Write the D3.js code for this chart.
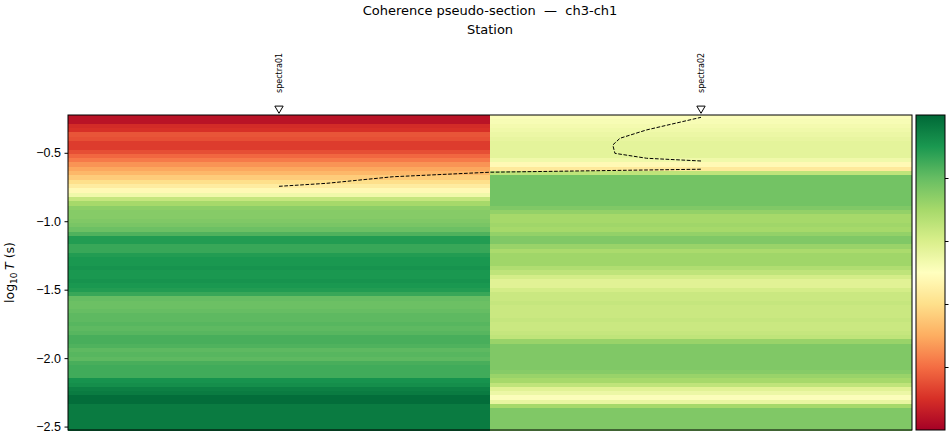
<!DOCTYPE html>
<html>
<head>
<meta charset="utf-8">
<script src="https://cdn.jsdelivr.net/npm/d3@7"></script>
<style>
  body { margin: 0; background: #fff; }
  svg { font-family: "DejaVu Sans", sans-serif; }
</style>
</head>
<body>
<div id="chart"></div>
<script>
// stations along the profile
const stations = ["spectra01", "spectra02"];
const stationPos = [0, 1];

// period grid (log10 T, s): top edge, bottom edge, number of rows
const logTTop = -0.224;
const logTBottom = -2.525;
const nRows = 73;

// coherence per row, top (long period) to bottom (short period)
const cohSpectra01 = [
  0.04, 0.04, 0.09, 0.10, 0.16, 0.15, 0.12, 0.12, 0.15, 0.19,
  0.22, 0.26, 0.29, 0.32, 0.36, 0.40, 0.44, 0.48, 0.54, 0.64,
  0.70, 0.74, 0.75, 0.75, 0.76, 0.77, 0.79, 0.83, 0.89, 0.89,
  0.86, 0.86, 0.89, 0.90, 0.90, 0.91, 0.90, 0.90, 0.91, 0.90,
  0.89, 0.86, 0.80, 0.79, 0.79, 0.80, 0.81, 0.81, 0.82, 0.81,
  0.82, 0.84, 0.84, 0.83, 0.81, 0.82, 0.81, 0.84, 0.85, 0.85,
  0.85, 0.91, 0.92, 0.95, 0.96, 0.99, 0.99, 0.96, 0.96, 0.96,
  0.96, 0.96, 0.96
];
const cohSpectra02 = [
  0.51, 0.52, 0.53, 0.54, 0.55, 0.56, 0.57, 0.57, 0.57, 0.57,
  0.54, 0.48, 0.43, 0.65, 0.78, 0.78, 0.78, 0.78, 0.78, 0.78,
  0.78, 0.76, 0.73, 0.70, 0.70, 0.71, 0.70, 0.73, 0.76, 0.76,
  0.72, 0.69, 0.71, 0.71, 0.71, 0.68, 0.65, 0.61, 0.58, 0.58,
  0.61, 0.63, 0.63, 0.64, 0.63, 0.63, 0.63, 0.64, 0.63, 0.63,
  0.64, 0.65, 0.72, 0.76, 0.76, 0.76, 0.76, 0.76, 0.76, 0.75,
  0.72, 0.70, 0.65, 0.58, 0.55, 0.51, 0.56, 0.70, 0.76, 0.76,
  0.76, 0.76, 0.76
];

// dashed contour, [station position, log10 T]
const contourLower = [
  [0, -0.745], [0.113, -0.723], [0.27, -0.675], [0.5, -0.642], [1, -0.62]
];
const contourUpper = [
  [1, -0.56], [0.871, -0.54], [0.796, -0.504], [0.791, -0.443],
  [0.808, -0.394], [0.871, -0.333], [1, -0.241]
];

const yTicks = [-0.5, -1.0, -1.5, -2.0, -2.5];
const cbTicks = [0.2, 0.4, 0.6, 0.8];

const width = 950;
const height = 440;
const margin = { top: 115, right: 38, bottom: 10, left: 68 };
const plotRight = 912;
const innerHeight = height - margin.top - margin.bottom;

const svg = d3
  .select("#chart")
  .append("svg")
  .attr("width", width)
  .attr("height", height);

const x = d3.scaleLinear().domain([-0.5, 1.5]).range([margin.left, plotRight]);
const y = d3
  .scaleLinear()
  .domain([logTTop, logTBottom])
  .range([margin.top, margin.top + innerHeight]);

// matplotlib style RdYlGn: linear between the 11 brewer colours
const color = d3
  .scaleLinear()
  .domain(d3.range(11).map((i) => i / 10))
  .range(d3.schemeRdYlGn[11])
  .clamp(true);

const dRow = (logTBottom - logTTop) / nRows;
const cells = [];
[cohSpectra01, cohSpectra02].forEach((col, s) => {
  col.forEach((v, i) => {
    cells.push({
      s: stationPos[s],
      t0: logTTop + i * dRow,
      t1: logTTop + (i + 1) * dRow,
      v: v,
    });
  });
});

svg
  .append("g")
  .selectAll("rect")
  .data(cells)
  .join("rect")
  .attr("x", (d) => x(d.s - 0.5))
  .attr("width", (d) => x(d.s + 0.5) - x(d.s - 0.5))
  .attr("y", (d) => y(d.t0))
  .attr("height", (d) => y(d.t1) - y(d.t0) + 0.5)
  .attr("fill", (d) => color(d.v))
  .attr("shape-rendering", "crispEdges");

// contour
const line = d3
  .line()
  .x((d) => x(d[0]))
  .y((d) => y(d[1]));

svg
  .append("g")
  .selectAll("path")
  .data([contourLower, contourUpper])
  .join("path")
  .attr("d", line)
  .attr("fill", "none")
  .attr("stroke", "#000")
  .attr("stroke-width", 1)
  .attr("stroke-dasharray", "3.7,1.6");

// frame
svg
  .append("rect")
  .attr("x", margin.left)
  .attr("y", margin.top)
  .attr("width", plotRight - margin.left)
  .attr("height", innerHeight)
  .attr("fill", "none")
  .attr("stroke", "#000")
  .attr("stroke-width", 1);

// y axis
const yAxis = svg
  .append("g")
  .attr("transform", `translate(${margin.left},0)`)
  .call(
    d3
      .axisLeft(y)
      .tickValues(yTicks)
      .tickFormat(d3.format(".1f"))
      .tickSize(3.5)
      .tickPadding(3.5)
  );
yAxis.select(".domain").remove();
yAxis.selectAll("text").attr("font-size", 12.5).attr("fill", "#000");
yAxis.selectAll("line").attr("stroke", "#000");

// y label
const yl = svg
  .append("text")
  .attr("transform", `translate(14,${margin.top + innerHeight / 2}) rotate(-90)`)
  .attr("text-anchor", "middle")
  .attr("font-size", 12.5)
  .attr("fill", "#000");
yl.append("tspan").text("log");
yl.append("tspan").attr("font-size", 9).attr("dy", 3).text("10");
yl.append("tspan").attr("dy", -3).text("\u2009");
yl.append("tspan").attr("font-style", "italic").text("T");
yl.append("tspan").text(" (s)");

// station markers and labels
const st = svg
  .append("g")
  .selectAll("g")
  .data(stations)
  .join("g")
  .attr("transform", (d, i) => `translate(${x(stationPos[i])},0)`);

st.append("path")
  .attr("d", d3.symbol(d3.symbolTriangle, 30))
  .attr("transform", "translate(0,108.5) rotate(180)")
  .attr("fill", "#fff")
  .attr("stroke", "#000")
  .attr("stroke-width", 1);

st.append("text")
  .attr("transform", "translate(3,93) rotate(-90)")
  .attr("font-size", 8)
  .attr("fill", "#000")
  .text((d) => d);

// titles
svg
  .append("text")
  .attr("x", (margin.left + plotRight) / 2)
  .attr("y", 15)
  .attr("text-anchor", "middle")
  .attr("font-size", 13)
  .attr("fill", "#000")
  .style("white-space", "pre")
  .text("Coherence pseudo-section  \u2014  ch3-ch1");

svg
  .append("text")
  .attr("x", (margin.left + plotRight) / 2)
  .attr("y", 34)
  .attr("text-anchor", "middle")
  .attr("font-size", 13)
  .attr("fill", "#000")
  .text("Station");

// colorbar (its labels fall outside the window in the reference, so only ticks)
const cbX = 916;
const cbW = 29;
const cb = d3.scaleLinear().domain([0, 1]).range([margin.top + innerHeight, margin.top]);

const grad = svg
  .append("defs")
  .append("linearGradient")
  .attr("id", "cbgrad")
  .attr("x1", 0)
  .attr("y1", 1)
  .attr("x2", 0)
  .attr("y2", 0);
grad
  .selectAll("stop")
  .data(d3.range(0, 1.0001, 0.02))
  .join("stop")
  .attr("offset", (d) => d)
  .attr("stop-color", (d) => color(d));

svg
  .append("rect")
  .attr("x", cbX)
  .attr("y", margin.top)
  .attr("width", cbW)
  .attr("height", innerHeight)
  .attr("fill", "url(#cbgrad)")
  .attr("stroke", "#000")
  .attr("stroke-width", 1);

const cbAxis = svg
  .append("g")
  .attr("transform", `translate(${cbX + cbW},0)`)
  .call(d3.axisRight(cb).tickValues(cbTicks).tickSize(3.5).tickFormat(""));
cbAxis.select(".domain").remove();
cbAxis.selectAll("line").attr("stroke", "#000");
</script>
</body>
</html>
